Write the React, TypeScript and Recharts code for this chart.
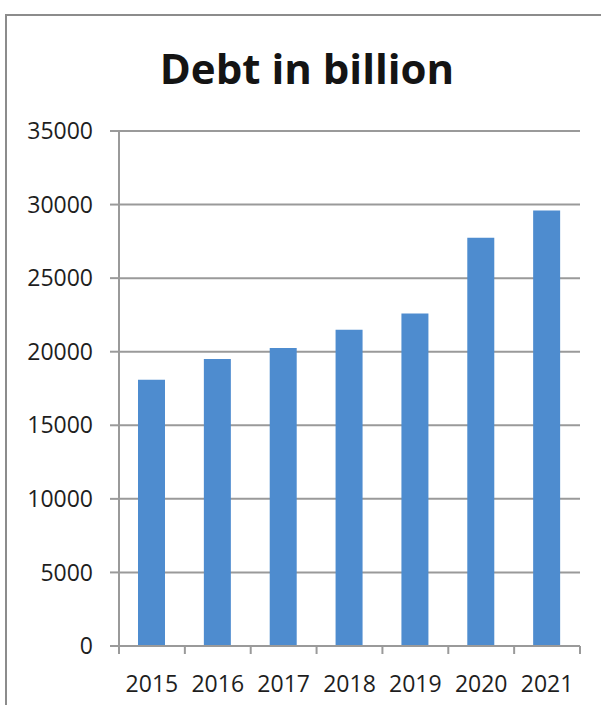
import { BarChart, Bar, XAxis, YAxis, CartesianGrid } from 'recharts';

const years = ['2015', '2016', '2017', '2018', '2019', '2020', '2021'];
const debt = [18100, 19500, 20250, 21500, 22600, 27750, 29600];
const yTicks = [0, 5000, 10000, 15000, 20000, 25000, 30000, 35000];

const data = years.map((year, i) => ({ year, debt: debt[i] }));

const AXIS_GRAY = '#9a9a9a';
const FONT = '"Open Sans", sans-serif';

// Excel-style category ticks: marks sit on the band edges, label in the middle
const YearTick = (props: any) => {
  const { x, y, payload, index } = props;
  const half = payload?.offset ?? 33;
  return (
    <g>
      <line x1={x - half} y1={y} x2={x - half} y2={y + 8} stroke={AXIS_GRAY} strokeWidth={2} />
      {index === years.length - 1 && (
        <line x1={x + half} y1={y} x2={x + half} y2={y + 8} stroke={AXIS_GRAY} strokeWidth={2} />
      )}
      <text x={x} y={y + 46} textAnchor="middle" fontSize={23} fontFamily={FONT} fill="#1e1e1e">
        {payload.value}
      </text>
    </g>
  );
};

const App = () => {
  return (
    <div style={{ position: 'absolute', left: 0, top: 0, width: 601, height: 705, background: '#fff' }}>
      <div
        style={{
          position: 'absolute',
          left: 5,
          top: 14,
          width: 596,
          height: 691,
          borderTop: '2px solid #8c8c8c',
          borderLeft: '2px solid #8c8c8c',
        }}
      />
      <div
        style={{
          position: 'absolute',
          left: 0,
          top: 47,
          width: 614,
          textAlign: 'center',
          fontFamily: FONT,
          fontWeight: 700,
          fontSize: 42,
          lineHeight: '42px',
          color: '#141414',
        }}
      >
        Debt in billion
      </div>
      <div style={{ position: 'absolute', left: 0, top: 0 }}>
        <BarChart
          width={601}
          height={705}
          data={data}
          margin={{ top: 131, right: 21, bottom: 0, left: 0 }}
        >
          <CartesianGrid vertical={false} stroke={AXIS_GRAY} strokeWidth={2} />
          <XAxis
            dataKey="year"
            height={59}
            tickLine={false}
            tickSize={0}
            tickMargin={0}
            axisLine={{ stroke: AXIS_GRAY, strokeWidth: 2 }}
            tick={<YearTick />}
            interval={0}
          />
          <YAxis
            width={119}
            domain={[0, 35000]}
            ticks={yTicks}
            tickSize={9}
            tickMargin={17}
            tickLine={{ stroke: AXIS_GRAY, strokeWidth: 2 }}
            axisLine={{ stroke: AXIS_GRAY, strokeWidth: 2 }}
            tick={{ fontSize: 23, fontFamily: FONT, fill: '#1e1e1e' }}
          />
          <Bar dataKey="debt" fill="#4e8ccf" barSize={27} isAnimationActive={false} />
        </BarChart>
      </div>
    </div>
  );
};

export default App;
